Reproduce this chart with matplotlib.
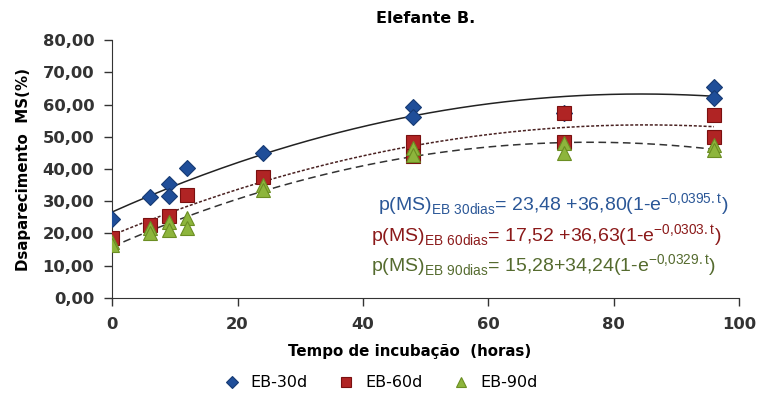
import numpy as np
import matplotlib.pyplot as plt

plt.rcParams['mathtext.fontset'] = 'custom'
plt.rcParams['mathtext.rm'] = 'Liberation Sans'

# Dados (tempo em horas, desaparecimento MS em %)
t_30 = [0, 6, 9, 9, 12, 24, 48, 48, 72, 96, 96]
ms_30 = [24.5, 31.3, 35.3, 31.6, 40.3, 45.0, 59.2, 56.1, 57.3, 65.4, 62.0]

t_60 = [0, 6, 9, 12, 24, 48, 48, 72, 72, 96, 96]
ms_60 = [18.6, 22.6, 25.4, 31.9, 37.5, 48.4, 44.0, 57.4, 48.4, 56.7, 49.9]

t_90 = [0, 0, 6, 6, 9, 9, 12, 12, 24, 24, 48, 48, 72, 72, 96, 96]
ms_90 = [17.5, 16.5, 21.7, 20.2, 23.6, 21.1, 24.8, 21.7, 35.0, 33.5, 46.5, 44.3, 48.0, 45.0, 47.4, 45.9]

eq_30 = r'p(MS)$_{\mathregular{EB\ 30dias}}$= 23,48 +36,80(1-e$^{\mathregular{-0{,}0395{.}t}}$)'
eq_60 = r'p(MS)$_{\mathregular{EB\ 60dias}}$= 17,52 +36,63(1-e$^{\mathregular{-0{,}0303{.}t}}$)'
eq_90 = r'p(MS)$_{\mathregular{EB\ 90dias}}$= 15,28+34,24(1-e$^{\mathregular{-0{,}0329{.}t}}$)'

fig = plt.figure(figsize=(7.58, 4.01), dpi=100)
ax = fig.add_axes([0.148, 0.257, 0.827, 0.643])

# Linhas de tendencia polinomiais (2a ordem), como no Excel
tt = np.linspace(0, 96, 200)
for tx, yx, ls, cor in [(t_30, ms_30, '-', '#222222'),
                        (t_60, ms_60, (0, (2, 1.2)), '#4a2222'),
                        (t_90, ms_90, (0, (5, 3)), '#333333')]:
    c = np.polyfit(tx, yx, 2)
    ax.plot(tt, np.polyval(c, tt), ls=ls, color=cor, lw=1.1, zorder=2)

ax.plot(t_30, ms_30, 'D', ms=8.5, color='#1F4E99', mec='#163a73', mew=0.8, label='EB-30d', zorder=3)
ax.plot(t_60, ms_60, 's', ms=10, color='#B02424', mec='#7a1010', mew=0.8, label='EB-60d', zorder=4)
ax.plot(t_90, ms_90, '^', ms=10, color='#8DB53C', mec='#6B8E23', mew=0.8, label='EB-90d', zorder=5)

ax.set_xlim(0, 100)
ax.set_ylim(0, 80)
ax.set_xticks(np.arange(0, 101, 20))
ax.set_yticks(np.arange(0, 81, 10))
ax.set_yticklabels([f'{v:.2f}'.replace('.', ',') for v in np.arange(0, 81, 10)])
ax.tick_params(labelsize=11.8, colors='#333333', length=6, width=1)
ax.tick_params(axis='x', pad=8)
ax.tick_params(axis='y', pad=7)
for lab in ax.get_xticklabels() + ax.get_yticklabels():
    lab.set_fontweight('bold')
ax.spines['top'].set_visible(False)
ax.spines['right'].set_visible(False)
ax.spines['left'].set_color('#333333')
ax.spines['bottom'].set_color('#333333')

ax.set_title('Elefante B.', fontsize=11.5, fontweight='bold', pad=12)
ax.set_xlabel('Tempo de incubação  (horas)', fontsize=10.8, fontweight='bold')
ax.xaxis.set_label_coords(0.475, -0.18)
ax.set_ylabel('Dsaparecimento  MS(%)', fontsize=10.8, fontweight='bold')
ax.yaxis.set_label_coords(-0.13, 0.5)

ax.text(0.424, 0.335, eq_30, transform=ax.transAxes, fontsize=14, color='#2B5797', family='Liberation Sans')
ax.text(0.413, 0.215, eq_60, transform=ax.transAxes, fontsize=14, color='#8B1A1A', family='Liberation Sans')
ax.text(0.413, 0.102, eq_90, transform=ax.transAxes, fontsize=14, color='#556B2F', family='Liberation Sans')

fig.legend(loc='center', bbox_to_anchor=(0.497, 0.045), ncol=3, frameon=False,
           fontsize=11.5, handletextpad=0.2, columnspacing=1.4, markerscale=0.75)

fig.savefig('out.png', dpi=100)
